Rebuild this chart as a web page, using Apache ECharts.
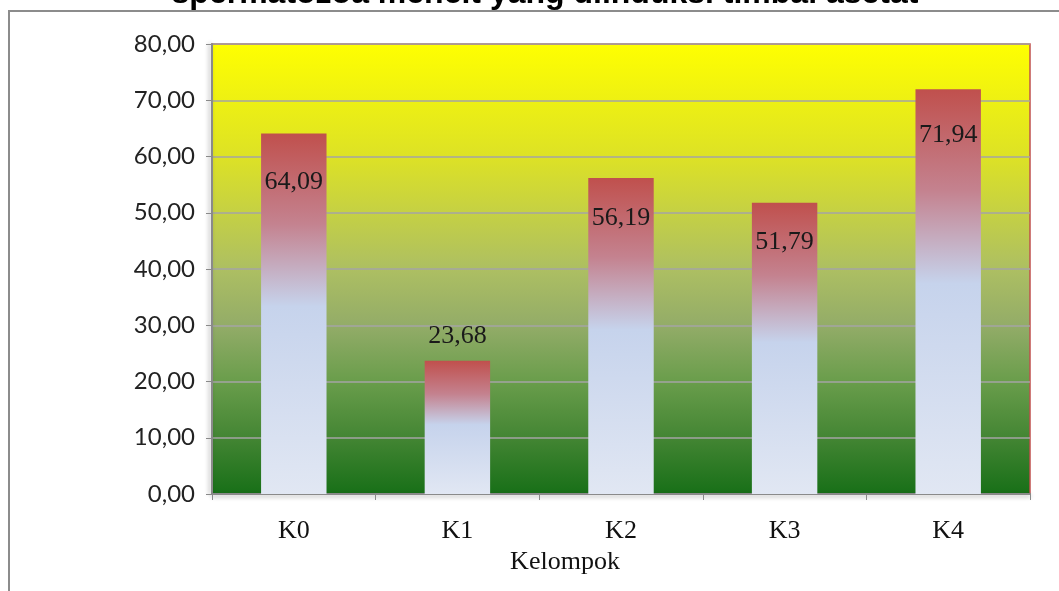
<!DOCTYPE html>
<html lang="id">
<head>
  <meta charset="UTF-8">
  <title>Kelompok</title>
  <style>
    html, body { margin: 0; padding: 0; background: #fff; }
  </style>
</head>
<body>
<div id="main" style="width: 1059px;height: 591px"></div>
<script type="text/javascript" src="https://cdn.jsdelivr.net/npm/echarts@6/dist/echarts.min.js"></script>
<script>
var judul = 'spermatozoa mencit yang diinduksi timbal asetat';
var kelompok = ['K0', 'K1', 'K2', 'K3', 'K4'];
var nilai = [64.09, 23.68, 56.19, 51.79, 71.94];
var sumbuY = [0, 10, 20, 30, 40, 50, 60, 70, 80];

// posisi label tiap batang (gaya, bukan data)
var posLabel = ['insideTop', 'top', 'insideTop', 'insideTop', 'insideTop'];
var jarakLabel = [36, 12, 27, 26, 33];

function koma(v) {
  return v.toFixed(2).replace('.', ',');
}

var warnaBatang = new echarts.graphic.LinearGradient(0, 0, 0, 1, [
  { offset: 0, color: '#c0504d' },
  { offset: 0.25, color: '#c4828f' },
  { offset: 0.48, color: '#c6d3ec' },
  { offset: 1, color: '#e1e7f3' }
]);

var warnaLatar = new echarts.graphic.LinearGradient(0, 0, 0, 1, [
  { offset: 0, color: '#ffff00' },
  { offset: 0.25, color: '#dde225' },
  { offset: 0.5, color: '#adbf62' },
  { offset: 0.625, color: '#93ac68' },
  { offset: 0.75, color: '#699d4b' },
  { offset: 0.875, color: '#438533' },
  { offset: 1, color: '#176f17' }
]);

var dataBatang = nilai.map(function (v, i) {
  return {
    value: v,
    label: { position: posLabel[i], distance: jarakLabel[i] }
  };
});

var option = {
  animation: false,
  title: {
    text: judul,
    left: 540,
    textAlign: 'center',
    top: -27,
    textStyle: { fontFamily: 'Liberation Sans', fontWeight: 'bold', fontSize: 32, color: '#000' }
  },
  graphic: [{
    type: 'rect',
    shape: { x: 9, y: 11, width: 1080, height: 600 },
    style: { fill: 'none', stroke: '#8c8c8c', lineWidth: 2 },
    z: -1
  }],
  grid: {
    left: 212, right: 29, top: 44, bottom: 97,
    show: true,
    backgroundColor: warnaLatar,
    borderColor: '#c0504d',
    borderWidth: 1.5
  },
  xAxis: {
    type: 'category',
    data: kelompok,
    name: 'Kelompok',
    nameLocation: 'middle',
    nameGap: 52,
    nameTextStyle: { fontFamily: 'Liberation Serif', fontSize: 26, color: '#111', padding: [0, 112, 0, 0] },
    axisLine: { lineStyle: { color: '#8a8a8a', width: 2, shadowColor: 'rgba(0,0,0,0.3)', shadowBlur: 4, shadowOffsetY: 2 } },
    axisTick: { show: true, length: 6, lineStyle: { color: '#8a8a8a' } },
    axisLabel: { fontFamily: 'Liberation Serif', fontSize: 26, color: '#111', margin: 24 }
  },
  yAxis: {
    type: 'value',
    min: sumbuY[0],
    max: sumbuY[sumbuY.length - 1],
    interval: 10,
    axisLine: { show: true, lineStyle: { color: '#8a8a8a', width: 2, shadowColor: 'rgba(0,0,0,0.3)', shadowBlur: 4, shadowOffsetX: -2 } },
    axisTick: { show: true, length: 6, lineStyle: { color: '#8a8a8a' } },
    axisLabel: {
      fontFamily: 'Lato', fontSize: 24, color: '#222', margin: 17,
      formatter: function (v) { return koma(v); }
    },
    splitLine: { lineStyle: { color: '#a5a5a5', width: 1.5 } }
  },
  series: [{
    type: 'bar',
    data: dataBatang,
    barWidth: '40%',
    itemStyle: { color: warnaBatang },
    label: {
      show: true,
      fontFamily: 'Liberation Serif',
      fontSize: 26,
      color: '#1a1a1a',
      formatter: function (p) { return koma(p.value); }
    }
  }]
};

var myChart = echarts.init(document.getElementById('main'));
myChart.setOption(option);
</script>
</body>
</html>
